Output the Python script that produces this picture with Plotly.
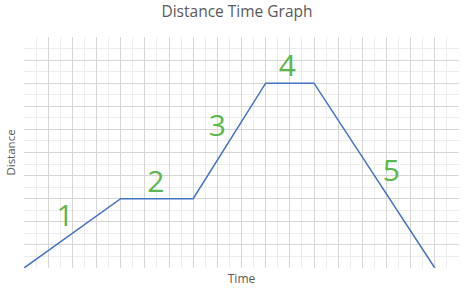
import plotly.graph_objects as go

time = [0, 4, 7, 10, 12, 17]
distance = [0, 3, 3, 8, 8, 0]

label_text = ["1", "2", "3", "4", "5"]
label_x = [1.7, 5.45, 8.0, 10.9, 15.2]
label_y = [2.15, 3.6, 6.05, 8.65, 4.1]

fig = go.Figure()
fig.add_trace(go.Scatter(x=time, y=distance, mode="lines",
                         line=dict(color="#4472C4", width=1.5),
                         hoverinfo="skip", showlegend=False))
fig.add_trace(go.Scatter(x=label_x, y=label_y, mode="text", text=label_text,
                         textfont=dict(family="Open Sans", size=30, color="#5BB84A"),
                         textposition="middle center", showlegend=False,
                         hoverinfo="skip"))

grid_major = "#D6D6D6"
grid_minor = "#EDEDED"

fig.update_layout(
    width=474, height=294,
    margin=dict(l=22, r=15, t=37, b=26),
    paper_bgcolor="white", plot_bgcolor="white",
    title=dict(text="Distance Time Graph", x=0.5, xanchor="center",
               y=1 - 12/294, yanchor="middle",
               font=dict(family="Open Sans", size=15.5, color="#595959")),
    xaxis=dict(range=[0, 18], dtick=1, showticklabels=False, ticks="",
               showgrid=True, gridcolor=grid_major, gridwidth=1,
               minor=dict(dtick=0.5, showgrid=True, gridcolor=grid_minor, gridwidth=1),
               zeroline=False, showline=False, fixedrange=True,
               title=dict(text="Time", standoff=6,
                          font=dict(family="Open Sans", size=12, color="#595959"))),
    yaxis=dict(range=[0, 10], dtick=1, showticklabels=False, ticks="",
               showgrid=True, gridcolor=grid_major, gridwidth=1,
               minor=dict(dtick=0.5, showgrid=True, gridcolor=grid_minor, gridwidth=1),
               zeroline=False, showline=False, fixedrange=True,
               title=dict(text="Distance", standoff=4,
                          font=dict(family="Open Sans", size=11.5, color="#595959"))),
)

fig.write_html("out.html")
